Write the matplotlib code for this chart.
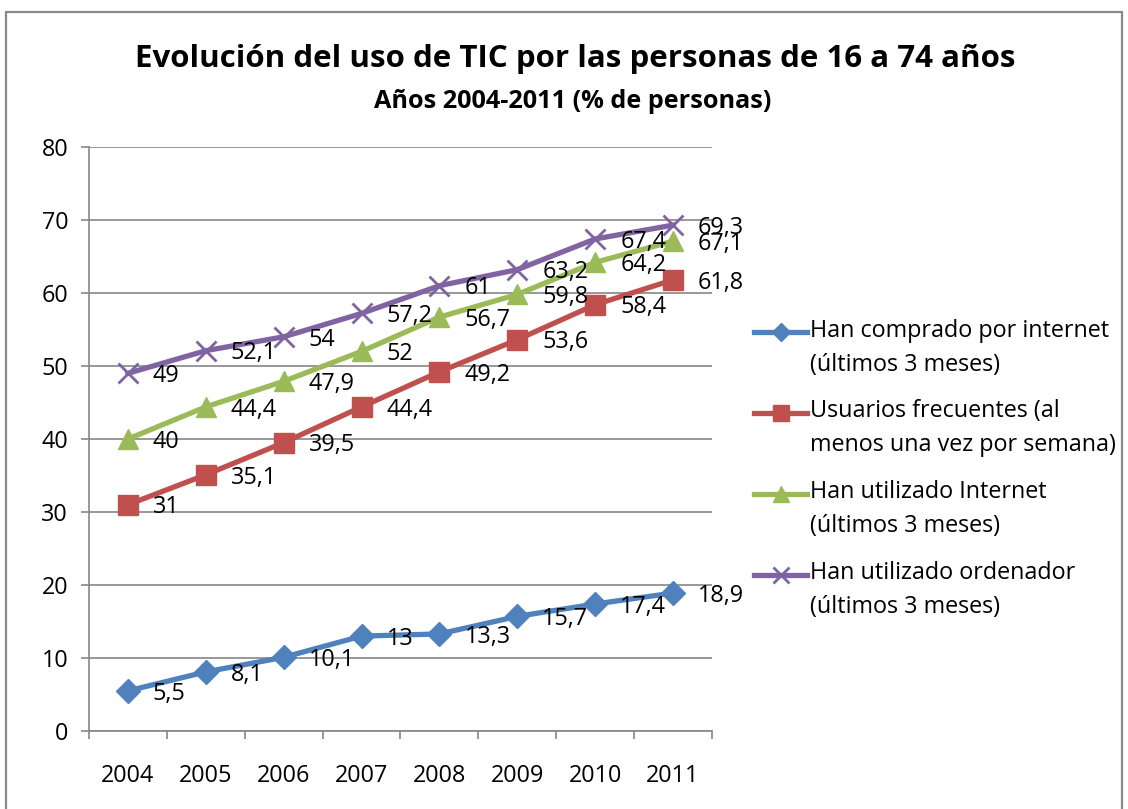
import matplotlib
matplotlib.use('Agg')
import matplotlib.pyplot as plt
from matplotlib.patches import Rectangle
from matplotlib.legend_handler import HandlerLine2D
import numpy as np

plt.rcParams['font.family'] = ['Open Sans', 'DejaVu Sans']

years = ['2004', '2005', '2006', '2007', '2008', '2009', '2010', '2011']
compras = [5.5, 8.1, 10.1, 13, 13.3, 15.7, 17.4, 18.9]
frecuentes = [31, 35.1, 39.5, 44.4, 49.2, 53.6, 58.4, 61.8]
internet = [40, 44.4, 47.9, 52, 56.7, 59.8, 64.2, 67.1]
ordenador = [49, 52.1, 54, 57.2, 61, 63.2, 67.4, 69.3]

series = [
    (compras, 'Han comprado por internet\n(últimos 3 meses)', '#4F81BD', 'D', 12),
    (frecuentes, 'Usuarios frecuentes (al\nmenos una vez por semana)', '#C0504D', 's', 14),
    (internet, 'Han utilizado Internet\n(últimos 3 meses)', '#9BBB59', '^', 15),
    (ordenador, 'Han utilizado ordenador\n(últimos 3 meses)', '#8064A2', 'x', 14),
]

fs = 16.8
grey = '#868686'


class FirstLineHandler(HandlerLine2D):
    # excel puts the legend key next to the first line of a wrapped label
    def create_artists(self, legend, orig_handle, xdescent, ydescent,
                       width, height, fontsize, trans):
        shift = 11.6
        return super().create_artists(legend, orig_handle, xdescent,
                                      ydescent - 2 * shift, width, height,
                                      fontsize, trans)


fig = plt.figure(figsize=(11.28, 8.09), dpi=100)
ax = fig.add_axes([0.0789, 0.0964, 0.5523, 0.7219])

x = np.arange(len(years))
for vals, lab, col, mk, ms in series:
    ax.plot(x, vals, color=col, lw=3.8, marker=mk, markersize=ms,
            markeredgewidth=2 if mk == 'x' else 1, label=lab, zorder=3)
    for xi, v in zip(x, vals):
        txt = ('%g' % v).replace('.', ',')
        ax.annotate(txt, (xi, v), xytext=(18, -2), textcoords='offset points',
                    va='center', ha='left', fontsize=fs, zorder=4)

ax.set_xlim(-0.5, len(years) - 0.5)
ax.set_ylim(0, 80)
ax.set_yticks(np.arange(0, 81, 10))
ax.set_xticks(x)
ax.set_xticklabels(years)
ax.set_xticks(np.arange(-0.5, len(years), 1), minor=True)
ax.tick_params(axis='x', which='major', length=0, pad=24, labelsize=fs)
ax.tick_params(axis='x', which='minor', length=6, width=1.2, color=grey)
ax.tick_params(axis='y', length=6, width=1.2, color=grey, pad=9, labelsize=fs)
ax.yaxis.grid(True, color=grey, lw=1.2)
ax.set_axisbelow(True)
for s in ['top', 'right']:
    ax.spines[s].set_visible(False)
for s in ['left', 'bottom']:
    ax.spines[s].set_color(grey)
    ax.spines[s].set_linewidth(1.2)

leg = ax.legend(loc='upper left', bbox_to_anchor=(1.052, 0.722), frameon=False,
                fontsize=fs, handlelength=2.3, handletextpad=0.1, labelspacing=0.98,
                borderaxespad=0, markerscale=0.8,
                handler_map={matplotlib.lines.Line2D: FirstLineHandler()})
for t in leg.get_texts():
    t.set_linespacing(1.55)

fig.text(0.51, 0.927, 'Evolución del uso de TIC por las personas de 16 a 74 años',
         ha='center', va='center', fontsize=22.5, fontweight='bold')
fig.text(0.508, 0.874, 'Años 2004-2011 (% de personas)',
         ha='center', va='center', fontsize=18.2, fontweight='bold')

fig.patches.append(Rectangle((6 / 1128, -0.02), 1116 / 1128, 1.02 - 12 / 809,
                             transform=fig.transFigure, fill=False,
                             edgecolor='#8a8a8a', lw=1.6))

fig.savefig('out.png', dpi=100)
